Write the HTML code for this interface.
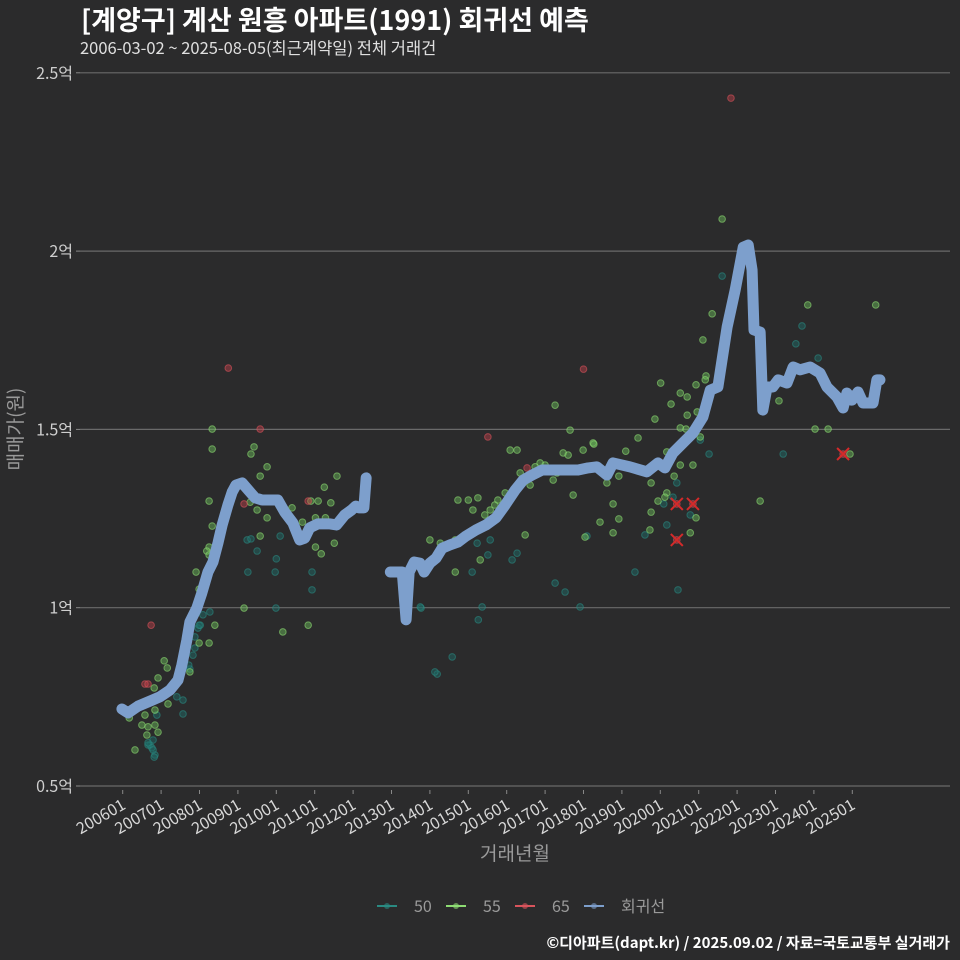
<!DOCTYPE html>
<html><head><meta charset="utf-8">
<style>
html,body{margin:0;padding:0;background:#2b2b2c;}
svg{display:block;font-family:"Noto Sans CJK KR","Liberation Sans",sans-serif;}
</style></head>
<body>
<svg id="chart" width="960" height="960" viewBox="0 0 960 960">
<rect x="0" y="0" width="960" height="960" fill="#2b2b2c"/>
<text x="81" y="30" font-size="27" font-weight="bold" fill="#ffffff">[계양구] 계산 원흥 아파트(1991) 회귀선 예측</text>
<text x="80" y="54" font-size="16.5" fill="#e0e0e0">2006-03-02 ~ 2025-08-05(최근계약일) 전체 거래건</text>
<g id="grid"></g>
<g id="xaxis"></g>
<g id="yaxis"></g>
<g id="points"></g>
<g id="lines"></g>
<g id="crosses"></g>
<text x="515" y="860" font-size="19" fill="#9a9a9a" text-anchor="middle">거래년월</text>
<text transform="translate(22,429) rotate(-90)" font-size="19" fill="#9a9a9a" text-anchor="middle">매매가(원)</text>
<g id="legend"></g>
<text x="950" y="948" font-size="15" font-weight="bold" fill="#ffffff" text-anchor="end">©디아파트(dapt.kr) / 2025.09.02 / 자료=국토교통부 실거래가</text>
</svg>
<script>
const yTicks=[0.5,1,1.5,2,2.5];
const yTickLabels=["0.5억","1억","1.5억","2억","2.5억"];
const xTickYears=[2006,2007,2008,2009,2010,2011,2012,2013,2014,2015,2016,2017,2018,2019,2020,2021,2022,2023,2024,2025];
const xTickLabels=["200601","200701","200801","200901","201001","201101","201201","201301","201401","201501","201601","201701","201801","201901","202001","202101","202201","202301","202401","202501"];
const line1Dates=[2005.98,2006.14,2006.40,2006.71,2006.97,2007.23,2007.44,2007.54,2007.67,2007.75,2007.93,2008.06,2008.22,2008.35,2008.48,2008.59,2008.74,2008.85,2008.95,2009.11,2009.27,2009.45,2009.63,2009.84,2010.04,2010.22,2010.43,2010.61,2010.74,2010.87,2011.08,2011.40,2011.57,2011.78,2011.96,2012.07,2012.15,2012.28,2012.34];
const line1Values=[0.716,0.705,0.724,0.738,0.750,0.769,0.797,0.839,0.909,0.960,0.999,1.041,1.100,1.128,1.181,1.232,1.288,1.324,1.344,1.350,1.330,1.308,1.302,1.302,1.302,1.268,1.238,1.190,1.195,1.224,1.235,1.235,1.232,1.260,1.274,1.285,1.280,1.280,1.364];
const line2Dates=[2012.97,2013.28,2013.38,2013.46,2013.59,2013.74,2013.85,2014.00,2014.16,2014.32,2014.52,2014.73,2014.94,2015.20,2015.46,2015.72,2015.96,2016.22,2016.43,2016.66,2016.92,2017.13,2017.34,2017.60,2017.86,2018.12,2018.35,2018.61,2018.77,2019.21,2019.65,2019.94,2020.12,2020.33,2020.59,2020.85,2021.11,2021.30,2021.50,2021.74,2021.95,2022.16,2022.29,2022.39,2022.44,2022.60,2022.67,2022.78,2022.93,2023.07,2023.30,2023.46,2023.64,2023.90,2024.16,2024.34,2024.60,2024.76,2024.86,2024.99,2025.15,2025.28,2025.54,2025.64,2025.72];
const line2Values=[1.100,1.100,0.966,1.100,1.128,1.125,1.100,1.125,1.139,1.167,1.176,1.184,1.201,1.218,1.232,1.252,1.288,1.330,1.358,1.372,1.386,1.386,1.386,1.386,1.386,1.392,1.395,1.372,1.406,1.395,1.381,1.406,1.392,1.434,1.462,1.490,1.535,1.610,1.619,1.787,1.891,2.011,2.017,1.947,1.779,1.773,1.554,1.619,1.619,1.639,1.630,1.675,1.667,1.675,1.658,1.619,1.591,1.560,1.602,1.582,1.605,1.574,1.574,1.639,1.639];
const teal50Dates=[2006.71,2006.79,2006.84,2006.76,2006.66,2006.89,2007.57,2007.75,2007.88,2007.96,2008.27,2009.24,2009.97,2010.0,2009.34,2009.5,2010.1,2009.26,2010.93,2010.93,2009.99,2013.77,2014.19,2008.02,2007.83,2006.66,2006.79,2006.82,2006.89,2007.57,2007.41,2007.72,2007.88,2007.99,2008.09,2021.61,2023.69,2023.53,2024.11,2021.27,2023.2,2020.43,2020.09,2020.33,2020.78,2020.17,2019.6,2018.09,2021.04,2014.13,2014.58,2013.75,2015.26,2015.36,2015.10,2015.51,2015.57,2016.14,2016.27,2017.26,2017.52,2017.91,2019.34,2020.46,2015.23];
const teal50Values=[0.615,0.629,0.587,0.607,0.615,0.750,0.741,0.828,0.887,0.943,0.988,1.190,1.100,1.137,1.193,1.159,1.201,1.100,1.100,1.050,0.999,0.999,0.814,0.951,0.867,0.621,0.601,0.581,0.699,0.702,0.750,0.839,0.918,0.951,0.980,1.930,1.790,1.740,1.700,1.431,1.431,1.350,1.291,1.310,1.260,1.232,1.204,1.201,1.470,0.820,0.862,1.002,0.966,1.002,1.100,1.148,1.190,1.134,1.153,1.069,1.044,1.002,1.100,1.050,1.181];
const green55Dates=[2008.33,2008.33,2009.42,2009.34,2009.76,2009.58,2011.58,2011.25,2008.25,2009.32,2009.5,2010.41,2009.76,2010.68,2011.02,2011.28,2010.9,2011.09,2011.42,2008.33,2009.58,2008.25,2008.19,2008.25,2011.02,2011.17,2011.51,2007.91,2007.99,2009.16,2008.40,2010.17,2010.83,2008.25,2007.99,2007.08,2007.16,2006.92,2006.82,2007.18,2006.58,2006.84,2006.50,2006.66,2006.84,2006.92,2006.63,2006.32,2006.17,2007.75,
2014.0,2014.27,2014.52,2014.66,2014.73,2015.0,2015.12,2015.25,2015.43,2015.57,2015.69,2015.77,2015.96,2016.09,2016.27,2016.35,2016.48,2016.61,2016.74,2016.87,2017.0,2017.21,2017.26,2017.31,2017.47,2017.60,2017.65,2017.73,2017.99,2018.25,2014.66,2015.31,2018.04,2018.43,
2023.84,2025.61,2024.03,2024.37,2024.94,2023.09,2022.60,2021.61,2021.35,2021.11,2021.19,2020.93,2020.52,2020.70,2020.28,2020.01,2019.86,2019.42,2019.10,2018.27,2018.61,2018.92,2018.77,2018.92,2018.77,2019.76,2019.94,2019.76,2020.17,2020.52,2020.85,2020.96,2020.70,2020.52,2020.67,2021.04,2020.17,2020.36,2020.93,2020.78,2019.73,2020.12,2021.17];
const green55Values=[1.501,1.445,1.451,1.431,1.395,1.369,1.369,1.338,1.299,1.296,1.274,1.280,1.252,1.240,1.252,1.252,1.299,1.299,1.294,1.229,1.201,1.170,1.159,1.148,1.170,1.151,1.181,1.100,1.052,0.999,0.951,0.932,0.951,0.901,0.901,0.851,0.831,0.803,0.775,0.730,0.699,0.713,0.671,0.666,0.671,0.651,0.643,0.601,0.691,0.820,
1.190,1.181,1.176,1.190,1.302,1.302,1.274,1.308,1.260,1.274,1.288,1.302,1.322,1.442,1.442,1.378,1.204,1.344,1.395,1.406,1.400,1.358,1.568,1.378,1.434,1.428,1.498,1.316,1.442,1.462,1.100,1.134,1.198,1.240,
1.849,1.849,1.501,1.501,1.431,1.580,1.299,2.090,1.824,1.751,1.650,1.625,1.602,1.591,1.571,1.630,1.529,1.476,1.439,1.459,1.350,1.369,1.291,1.249,1.210,1.350,1.299,1.268,1.322,1.400,1.400,1.549,1.540,1.504,1.501,1.479,1.437,1.369,1.252,1.210,1.218,1.310,1.639];
const red65Dates=[2006.74,2006.58,2006.66,2009.58,2009.16,2010.83,2008.75,2018.0,2021.84,2015.51,2016.53,2020.43,2020.85,2020.43,2024.76];
const red65Values=[0.951,0.786,0.786,1.501,1.291,1.299,1.672,1.669,2.429,1.479,1.392,1.291,1.291,1.190,1.431];
const outlierDates=[2020.43,2020.85,2020.43,2024.76];
const outlierValues=[1.291,1.291,1.190,1.431];

const NS="http://www.w3.org/2000/svg";
function xs(d){return 122.7+(d-2006)*38.4;}
function ys(v){return 786-(v-0.5)*356.6;}
function mk(tag,attrs,parent){const e=document.createElementNS(NS,tag);for(const k in attrs)e.setAttribute(k,attrs[k]);parent.appendChild(e);return e;}

const grid=document.getElementById('grid'),yaxis=document.getElementById('yaxis'),xaxis=document.getElementById('xaxis');
yTicks.forEach((t,i)=>{
  const l=mk('line',{x1:80,x2:950,y1:ys(t),y2:ys(t),stroke:'#6a6a6a','stroke-width':1.2},grid);
  
  
  const tk=mk('line',{x1:76,x2:80,y1:ys(t),y2:ys(t),stroke:'#888','stroke-width':1},yaxis);
  
  
  const tx=mk('text',{x:73,y:ys(t)+6,'font-size':16,fill:'#cfcfcf','text-anchor':'end'},yaxis);
  tx.textContent=yTickLabels[i];
  
  
});
xTickYears.forEach((yr,i)=>{
  const x=xs(yr);
  const tk=mk('line',{x1:x,x2:x,y1:790,y2:794,stroke:'#888','stroke-width':1},xaxis);
  
  
  const tx=mk('text',{transform:`translate(${x+4},808) rotate(-30)`,'font-size':16,fill:'#d8d8d8','text-anchor':'end'},xaxis);
  tx.textContent=xTickLabels[i];
  
  
});

const pts=document.getElementById('points');
function drawPts(dates,vals,fill,stroke,name){
  dates.forEach((d,i)=>{
    const c=mk('circle',{cx:xs(d),cy:ys(vals[i]),r:3.3,fill:fill,'fill-opacity':0.45,stroke:stroke,'stroke-opacity':0.6,'stroke-width':1},pts);
    
    
  });
}
drawPts(teal50Dates,teal50Values,'#1f6f6a','#2a8a82','point-50');
drawPts(green55Dates,green55Values,'#6cbf5a','#8ddc73','point-55');
drawPts(red65Dates,red65Values,'#c0404a','#d9545c','point-65');

const lines=document.getElementById('lines');
function drawLine(dates,vals){
  const p=mk('polyline',{points:dates.map((d,i)=>xs(d)+','+ys(vals[i])).join(' '),fill:'none',stroke:'#7d9fcc','stroke-width':11,'stroke-linejoin':'round','stroke-linecap':'round'},lines);
  
  
}
drawLine(line1Dates,line1Values);
drawLine(line2Dates,line2Values);

const cr=document.getElementById('crosses');
outlierDates.forEach((d,i)=>{
  const x=xs(d),y=ys(outlierValues[i]);
  const p=mk('path',{d:`M${x-6},${y-6}L${x+6},${y+6}M${x+6},${y-6}L${x-6},${y+6}`,stroke:'#d42a2a','stroke-width':2},cr);
  
  
});

const legendItems=[["50","#2a8a82"],["55","#8ddc73"],["65","#d9545c"],["회귀선","#7d9fcc"]];
const lg=document.getElementById('legend');
let lx=377;
legendItems.forEach(([lab,col])=>{
  const g=mk('g',{},lg);
  
  
  mk('line',{x1:lx,x2:lx+20,y1:906,y2:906,stroke:col,'stroke-width':2},g);
  mk('circle',{cx:lx+10,cy:906,r:3,fill:col,'fill-opacity':0.6},g);
  const t=mk('text',{x:lx+37,y:912,'font-size':16,fill:'#9a9a9a'},g);
  t.textContent=lab;
  lx+=69;
});
</script>
</body></html>
